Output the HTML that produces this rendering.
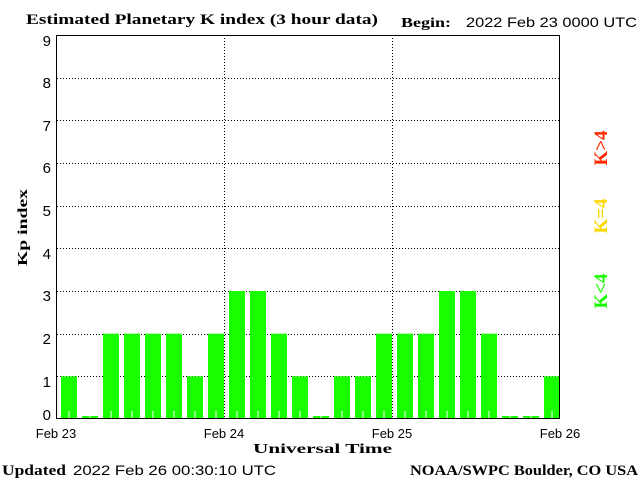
<!DOCTYPE html>
<html><head><style>
body{margin:0;background:#fff;width:640px;height:480px;overflow:hidden}
svg text{font-family:"Liberation Sans",sans-serif}
.s{font-family:"Liberation Serif",serif;font-weight:bold}
</style></head><body>
<svg width="640" height="480" xmlns="http://www.w3.org/2000/svg">
<text x="26" y="24" class="s" font-size="15" textLength="352" lengthAdjust="spacingAndGlyphs">Estimated Planetary K index (3 hour data)</text>
<text x="401" y="27" class="s" font-size="14" textLength="50" lengthAdjust="spacingAndGlyphs">Begin:</text>
<text x="466" y="27" font-size="14" textLength="171" lengthAdjust="spacingAndGlyphs">2022 Feb 23 0000 UTC</text>
<g stroke="#000" stroke-dasharray="1,2" stroke-width="1">
<line x1="57" x2="560" y1="78.5" y2="78.5"/><line x1="57" x2="560" y1="120.5" y2="120.5"/>
<line x1="57" x2="560" y1="163.5" y2="163.5"/><line x1="57" x2="560" y1="206.5" y2="206.5"/>
<line x1="57" x2="560" y1="248.5" y2="248.5"/><line x1="57" x2="560" y1="291.5" y2="291.5"/>
<line x1="57" x2="560" y1="334.5" y2="334.5"/><line x1="57" x2="560" y1="376.5" y2="376.5"/>
<line x1="224.5" x2="224.5" y1="35" y2="419"/><line x1="392.5" x2="392.5" y1="35" y2="419"/>
</g>
<g id="bars" fill="#1aff00"></g>
<rect x="56.5" y="35.5" width="503" height="383" fill="none" stroke="#000"/>
<g font-size="15" text-anchor="end">
<text x="51" y="46">9</text><text x="51" y="88">8</text><text x="51" y="131">7</text>
<text x="51" y="173">6</text><text x="51" y="216">5</text><text x="51" y="259">4</text>
<text x="51" y="301">3</text><text x="51" y="344">2</text><text x="51" y="387">1</text><text x="51" y="420">0</text>
</g>
<g font-size="13" text-anchor="middle">
<text x="56" y="438">Feb 23</text><text x="224" y="438">Feb 24</text>
<text x="392" y="438">Feb 25</text><text x="560" y="438">Feb 26</text>
</g>
<text x="253" y="453" class="s" font-size="14" textLength="139" lengthAdjust="spacingAndGlyphs">Universal Time</text>
<text transform="translate(27,266) rotate(-90)" class="s" font-size="14" textLength="77" lengthAdjust="spacingAndGlyphs">Kp index</text>
<text transform="translate(607,148) rotate(-90)" class="s" font-size="19" fill="#ff2a00" text-anchor="middle">K&gt;4</text>
<text transform="translate(607,216) rotate(-90)" class="s" font-size="19" fill="#ffd700" text-anchor="middle">K=4</text>
<text transform="translate(607,291) rotate(-90)" class="s" font-size="19" fill="#1aff00" text-anchor="middle">K&lt;4</text>
<text x="2" y="475" class="s" font-size="15" textLength="64" lengthAdjust="spacingAndGlyphs">Updated</text>
<text x="73" y="475" font-size="14" textLength="203" lengthAdjust="spacingAndGlyphs">2022 Feb 26 00:30:10 UTC</text>
<text x="410" y="475" class="s" font-size="15" textLength="228" lengthAdjust="spacingAndGlyphs">NOAA/SWPC Boulder, CO USA</text>
</svg>
<script>
var v=[1,0,2,2,2,2,1,2,3,3,2,1,0,1,1,2,2,2,3,3,2,0,0,1],g=document.getElementById('bars'),s='';
v.forEach(function(k,i){var x=61+21*i,h=k?k*42.67:3,y=419-h;
s+='<rect x="'+x+'" y="'+y+'" width="16" height="'+h+'"/>';
s+='<rect x="'+(x+7.5)+'" y="'+(k?411:416)+'" width="1" height="'+(k?8:3)+'" fill="#fff"/>';});
g.innerHTML=s;
</script>
</body></html>
